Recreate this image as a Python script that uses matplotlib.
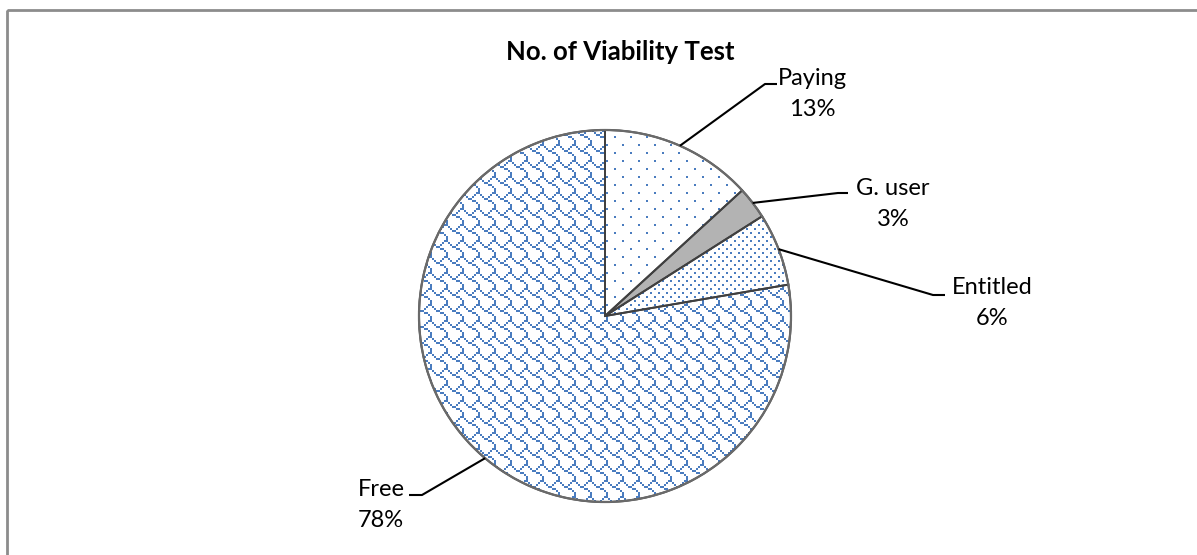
import matplotlib
matplotlib.use("Agg")
import matplotlib.pyplot as plt
from matplotlib.patches import Wedge, Rectangle
from matplotlib.colors import to_rgba
import numpy as np

# ---- data ----
categories = ["Paying", "G. user", "Entitled", "Free"]
values = [13.2, 2.8, 6.3, 77.7]
title = "No. of Viability Test"

# ---- styles: 8x8 fill-pattern bitmaps (Office style), None = solid ----
patterns = [
    [0x01, 0x00, 0x00, 0x00, 0x10, 0x00, 0x00, 0x00],   # 5% dots
    None,
    [0x11, 0x00, 0x44, 0x00, 0x11, 0x00, 0x44, 0x00],   # 20% dots
    [0x03, 0x84, 0x48, 0x30, 0x0C, 0x02, 0x01, 0x01],   # shingle
]
faces = ["white", "#b3b3b3", "white", "white"]
pattern_color = "#4a7cbf"

# label layout (pixel coords): elbow point, end of horizontal stub, text anchor
elbows = [(765, 84), (838, 193), (933, 295), (422, 495)]
stubs = [(777, 84), (848, 193), (945, 295), (409, 495)]
text_pos = [(812, 94), (893, 204), (992, 303), (381, 505)]

plt.rcParams["font.family"] = ["Lato", "DejaVu Sans"]

W, H = 1197, 555
fig = plt.figure(figsize=(W / 100, H / 100), dpi=100)
ax = fig.add_axes([0, 0, 1, 1])

center = (605, 316)
radius = 186

wedges, _ = ax.pie(values, startangle=-90, counterclock=True,
                   center=center, radius=radius)
ax.set_xlim(0, W)
ax.set_ylim(H, 0)
ax.set_aspect("auto")
ax.axis("off")


def pattern_image(rows, scale=2):
    bits = np.array([[(r >> (7 - c)) & 1 for c in range(8)] for r in rows])
    tile = np.kron(bits, np.ones((scale, scale), dtype=int))
    th, tw = tile.shape
    full = np.tile(tile, (H // th + 1, W // tw + 1))[:H, :W]
    img = np.zeros((H, W, 4))
    rgba = to_rgba(pattern_color)
    img[full == 1] = rgba
    return img


for w, pat, fc in zip(wedges, patterns, faces):
    w.set_facecolor(fc)
    w.set_edgecolor(fc)
    w.set_linewidth(0)
    if pat is not None:
        im = ax.imshow(pattern_image(pat), extent=(0, W, H, 0), origin="upper",
                       interpolation="nearest", zorder=2)
        im.set_clip_path(w)

ax.set_xlim(0, W)
ax.set_ylim(H, 0)
ax.set_aspect("auto")

# outlines
for w in wedges:
    ax.add_patch(Wedge(w.center, w.r, w.theta1, w.theta2, fill=False,
                       edgecolor="#404040", linewidth=1.4, zorder=3))
ax.add_patch(Wedge(center, radius, 0, 360, fill=False,
                   edgecolor="#6a6a6a", linewidth=1.6, zorder=3))

total = sum(values)
for w, cat, v, el, st, tp in zip(wedges, categories, values, elbows, stubs, text_pos):
    mid = np.deg2rad((w.theta1 + w.theta2) / 2)
    sx = center[0] + radius * np.cos(mid)
    sy = center[1] + radius * np.sin(mid)
    ax.plot([sx, el[0], st[0]], [sy, el[1], st[1]], color="black", lw=1.5,
            solid_capstyle="butt", zorder=4)
    ax.text(tp[0], tp[1], f"{cat}\n{round(v / total * 100)}%", ha="center",
            va="center", fontsize=17, linespacing=1.6, color="black")

ax.text(620, 52, title, ha="center", va="center", fontsize=18.5,
        fontweight="bold", color="black")

# chart border
ax.add_patch(Rectangle((6.5, 9.5), W + 10, H + 10, fill=False,
                       edgecolor="#8c8c8c", linewidth=2, clip_on=False))

fig.savefig("out.png", dpi=100)
